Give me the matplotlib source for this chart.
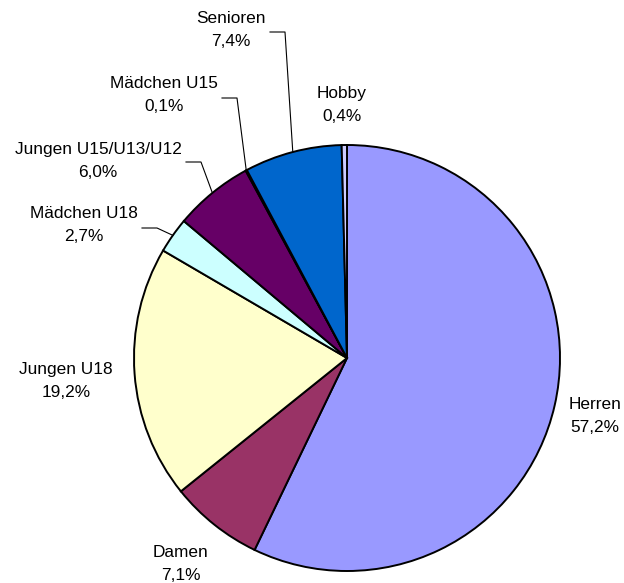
import numpy as np
import matplotlib
matplotlib.use('Agg')
import matplotlib.pyplot as plt

labels = ['Herren', 'Damen', 'Jungen U18', 'Mädchen U18', 'Jungen U15/U13/U12',
          'Mädchen U15', 'Senioren', 'Hobby']
shares = [57.2, 7.1, 19.2, 2.7, 6.0, 0.1, 7.4, 0.4]
colors = ['#9999FF', '#993366', '#FFFFCC', '#CCFFFF', '#660066',
          '#FF8080', '#0066CC', '#CCCCFF']

# label centres in pixels (layout) and whether a leader line is drawn
label_pos = [(595, 416), (181, 564), (66, 381), (84, 225), (98, 161),
             (164, 95), (231, 30), (342, 105)]
leader_start = [None, None, None, (142, 228), (186, 162), (222, 98), (270, 32), None]

W, H = 624, 583
cx, cy, R = 347, 358, 213

plt.rcParams['font.family'] = ['Liberation Sans', 'DejaVu Sans']

fig = plt.figure(figsize=(W / 100, H / 100), dpi=100)
ax = fig.add_axes([(cx - R) / W, (H - cy - R) / H, 2 * R / W, 2 * R / H])
wedges, _ = ax.pie(shares, colors=colors, startangle=90, counterclock=False,
                   radius=1, wedgeprops=dict(edgecolor='black', linewidth=1.4))
ax.set_xlim(-1, 1)
ax.set_ylim(-1, 1)
ax.set_aspect('equal')
ax.axis('off')


def px(x, y):
    return (x - cx) / R, (cy - y) / R


for i, (lab, val) in enumerate(zip(labels, shares)):
    txt = lab + '\n' + ('%.1f%%' % val).replace('.', ',')
    tx, ty = px(*label_pos[i])
    ax.text(tx, ty, txt, ha='center', va='center', fontsize=12.4,
            linespacing=1.72, clip_on=False)
    if leader_start[i] is not None:
        w = wedges[i]
        mid = np.deg2rad((w.theta1 + w.theta2) / 2)
        ex, ey = np.cos(mid), np.sin(mid)
        sx, sy = px(*leader_start[i])
        kx = sx + 15 / R
        ax.plot([sx, kx, ex], [sy, sy, ey], color='black', linewidth=0.8,
                clip_on=False)

fig.savefig('out.png', dpi=100)
